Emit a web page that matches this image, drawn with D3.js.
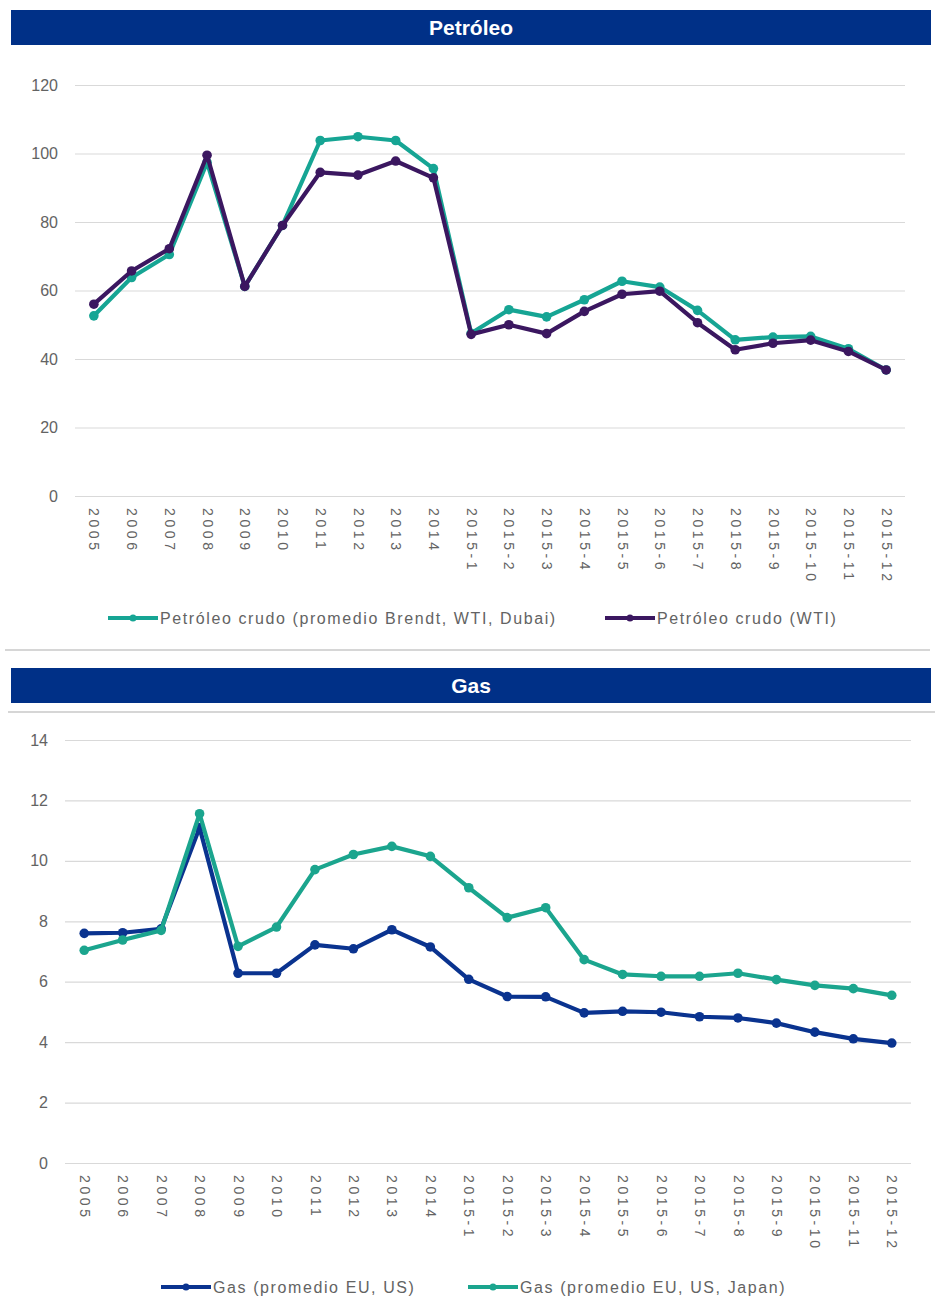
<!DOCTYPE html>
<html>
<head>
<meta charset="utf-8">
<script src="https://cdn.jsdelivr.net/npm/d3@7"></script>
<style>
  body { margin: 0; background: #fff; }
  svg text { font-family: "Liberation Sans", Arial, sans-serif; }
</style>
</head>
<body>
<div id="chart"></div>
<script>
// categories shared by both panels
var periods = ["2005","2006","2007","2008","2009","2010","2011","2012","2013","2014",
  "2015-1","2015-2","2015-3","2015-4","2015-5","2015-6","2015-7","2015-8","2015-9","2015-10","2015-11","2015-12"];

// Petróleo
var oilAvg = [52.6,63.8,70.5,97.4,61.2,79,103.8,104.9,103.8,95.6,47.5,54.4,52.3,57.3,62.7,61,54.2,45.6,46.4,46.6,43,36.8];
var oilWti = [56,65.7,72.2,99.5,61.2,79,94.5,93.7,97.8,92.9,47.2,50,47.4,53.9,58.9,59.8,50.6,42.7,44.6,45.5,42.2,36.8];
var oilTicks = [0,20,40,60,80,100,120];

// Gas
var gasEuUs = [7.6,7.62,7.75,11.1,6.28,6.28,7.22,7.09,7.72,7.15,6.08,5.51,5.5,4.97,5.02,4.99,4.84,4.8,4.63,4.33,4.11,3.97];
var gasJapan = [7.04,7.38,7.7,11.56,7.17,7.81,9.71,10.21,10.48,10.15,9.11,8.12,8.45,6.73,6.24,6.18,6.18,6.28,6.07,5.88,5.77,5.55];
var gasTicks = [0,2,4,6,8,10,12,14];

var svg = d3.select("#chart").append("svg")
  .attr("width", 935)
  .attr("height", 1312)

// draws one panel
function panel(cfg) {
  // header bar
  svg.append("rect")
    .attr("x", 11).attr("y", cfg.headerY)
    .attr("width", 920).attr("height", 35)
    .attr("fill", "#003087")
  svg.append("text")
    .attr("x", 471).attr("y", cfg.headerY + 18)
    .attr("dy", "0.35em")
    .attr("text-anchor", "middle")
    .style("font-size", "21px")
    .style("font-weight", "bold")
    .style("fill", "white")
    .text(cfg.title)

  var x = d3.scalePoint()
    .domain(periods)
    .range([cfg.left, cfg.right])
    .padding(0.5)

  var y = d3.scaleLinear()
    .domain([0, d3.max(cfg.ticks)])
    .range([cfg.bottom, cfg.top])

  // gridlines + y labels
  var yAxis = svg.append("g")
    .attr("transform", "translate(" + cfg.left + ",0)")
    .call(d3.axisLeft(y).tickValues(cfg.ticks).tickSize(-(cfg.right - cfg.left)).tickPadding(cfg.labelPad))
  yAxis.select(".domain").remove()
  yAxis.selectAll(".tick line").attr("stroke", "#d9d9d9").attr("stroke-width", 1.2)
  yAxis.selectAll(".tick text")
    .style("font-size", "16px")
    .style("fill", "#636363")
    .attr("font-family", null)

  // x labels, rotated
  var xAxis = svg.append("g")
    .attr("transform", "translate(0," + cfg.bottom + ")")
    .call(d3.axisBottom(x).tickSize(0))
  xAxis.select(".domain").remove()
  xAxis.selectAll(".tick text")
    .attr("transform", "rotate(90)")
    .attr("x", 12).attr("y", 0)
    .attr("dy", "0.35em")
    .attr("text-anchor", "start")
    .style("font-size", "14px")
    .style("letter-spacing", "3.6px")
    .style("fill", "#636363")
    .attr("font-family", null)

  var line = d3.line()
    .x(function(d, i) { return x(periods[i]); })
    .y(function(d) { return y(d); })

  cfg.series.forEach(function(s) {
    svg.append("path")
      .datum(s.values)
      .attr("d", line)
      .attr("fill", "none")
      .attr("stroke", s.color)
      .attr("stroke-width", 4.2)
      .attr("stroke-linejoin", "round")
    svg.append("g")
      .selectAll("circle")
      .data(s.values)
      .enter()
      .append("circle")
        .attr("cx", function(d, i) { return x(periods[i]); })
        .attr("cy", function(d) { return y(d); })
        .attr("r", 4.8)
        .attr("fill", s.color)

    // legend entry
    svg.append("line")
      .attr("x1", s.lx).attr("x2", s.lx + 50)
      .attr("y1", cfg.legendY).attr("y2", cfg.legendY)
      .attr("stroke", s.color).attr("stroke-width", 4)
    svg.append("circle")
      .attr("cx", s.lx + 25).attr("cy", cfg.legendY).attr("r", 3.5)
      .attr("fill", s.color)
    svg.append("text")
      .attr("x", s.lx + 52).attr("y", cfg.legendY)
      .attr("dy", "0.35em")
      .style("font-size", "16px")
      .style("letter-spacing", "1.6px")
      .style("fill", "#636363")
      .text(s.name)
  })
}

panel({
  title: "Petróleo", headerY: 10,
  left: 75, right: 905, top: 85, bottom: 496, labelPad: 17,
  ticks: oilTicks, legendY: 618,
  series: [
    { name: "Petróleo crudo (promedio Brendt, WTI, Dubai)", values: oilAvg, color: "#16a594", lx: 108 },
    { name: "Petróleo crudo (WTI)", values: oilWti, color: "#3b1760", lx: 605 }
  ]
})

// separators
svg.append("line")
  .attr("x1", 5).attr("x2", 930).attr("y1", 650).attr("y2", 650)
  .attr("stroke", "#c8c8c8").attr("stroke-width", 1.5)
svg.append("line")
  .attr("x1", 8).attr("x2", 935).attr("y1", 712).attr("y2", 712)
  .attr("stroke", "#c8c8c8").attr("stroke-width", 1.5)

panel({
  title: "Gas", headerY: 668,
  left: 65, right: 911, top: 740, bottom: 1163, labelPad: 17,
  ticks: gasTicks, legendY: 1287,
  series: [
    { name: "Gas (promedio EU, US)", values: gasEuUs, color: "#0a338f", lx: 161 },
    { name: "Gas (promedio EU, US, Japan)", values: gasJapan, color: "#1ba58e", lx: 468 }
  ]
})
</script>
</body>
</html>
